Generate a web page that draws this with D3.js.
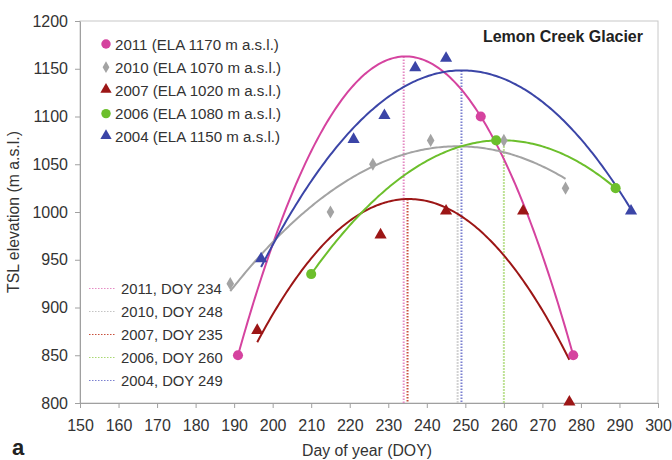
<!DOCTYPE html>
<html lang="en">
<head>
<meta charset="UTF-8">
<title>Lemon Creek Glacier TSL</title>
<style>
  body { margin: 0; background: #fff; }
  text { font-family: "Liberation Sans", Arial, sans-serif; fill: #333; }
</style>
</head>
<body>
<svg id="chart"></svg>
<script src="https://d3js.org/d3.v7.min.js"></script>
<script>
var years = ['2011', '2010', '2007', '2006', '2004'];
var ela = [1170, 1070, 1020, 1080, 1150];
var peakDoy = [234, 248, 235, 260, 249];
var doy2011 = [191, 254, 278],                  tsl2011 = [850, 1100, 850];
var doy2010 = [189, 215, 226, 241, 260, 276],   tsl2010 = [925, 1000, 1050, 1075, 1075, 1025];
var doy2007 = [196, 228, 245, 265, 277],        tsl2007 = [875, 975, 1000, 1000, 800];
var doy2006 = [210, 258, 289],                  tsl2006 = [935, 1075, 1025];
var doy2004 = [197, 221, 229, 237, 245, 293],   tsl2004 = [950, 1075, 1100, 1150, 1160, 1000];
var xTicks = [150, 160, 170, 180, 190, 200, 210, 220, 230, 240, 250, 260, 270, 280, 290, 300];
var yTicks = [800, 850, 900, 950, 1000, 1050, 1100, 1150, 1200];

var colors = ['#d5439f', '#a3a3a3', '#9c1616', '#6cbf2c', '#3b45a7'];
var dotColors = ['#e58cc4', '#c4c4c4', '#c8503c', '#a9d873', '#7b80d0'];
var shapes = ['circle', 'diamond', 'triangle', 'circle', 'triangle'];
var doys = [doy2011, doy2010, doy2007, doy2006, doy2004];
var tsls = [tsl2011, tsl2010, tsl2007, tsl2006, tsl2004];

var width = 672, height = 460;
var margin = {top: 21, right: 14, bottom: 57, left: 80};
var svg = d3.select('#chart').attr('width', width).attr('height', height);

var x = d3.scaleLinear().domain([150, 300]).range([margin.left, width - margin.right]);
var y = d3.scaleLinear().domain([800, 1200]).range([height - margin.bottom, margin.top]);

// least squares quadratic (like a spreadsheet poly trendline)
function quadFit(xs, ys) {
  var m = d3.mean(xs);
  var s = [0, 0, 0, 0, 0], t = [0, 0, 0];
  xs.forEach(function (xv, i) {
    var u = xv - m;
    for (var k = 0; k < 5; k++) s[k] += Math.pow(u, k);
    for (var k2 = 0; k2 < 3; k2++) t[k2] += ys[i] * Math.pow(u, k2);
  });
  var A = [[s[0], s[1], s[2], t[0]], [s[1], s[2], s[3], t[1]], [s[2], s[3], s[4], t[2]]];
  for (var c = 0; c < 3; c++) {
    for (var r = c + 1; r < 3; r++) {
      var f = A[r][c] / A[c][c];
      for (var k3 = c; k3 < 4; k3++) A[r][k3] -= f * A[c][k3];
    }
  }
  var b = [0, 0, 0];
  for (var r2 = 2; r2 >= 0; r2--) {
    var v = A[r2][3];
    for (var k4 = r2 + 1; k4 < 3; k4++) v -= A[r2][k4] * b[k4];
    b[r2] = v / A[r2][r2];
  }
  return function (xv) { var u = xv - m; return b[0] + b[1] * u + b[2] * u * u; };
}

// frame
svg.append('rect')
  .attr('x', x(150)).attr('y', y(1200))
  .attr('width', x(300) - x(150)).attr('height', y(800) - y(1200))
  .attr('fill', 'none').attr('stroke', '#c8c8c8').attr('stroke-width', 1);

var xAxis = svg.append('g')
  .attr('transform', 'translate(0,' + y(800) + ')')
  .call(d3.axisBottom(x).tickValues(xTicks).tickSize(5).tickSizeOuter(0).tickPadding(12));
var yAxis = svg.append('g')
  .attr('transform', 'translate(' + x(150) + ',0)')
  .call(d3.axisLeft(y).tickValues(yTicks).tickFormat(d3.format('d')).tickSize(5).tickSizeOuter(0).tickPadding(7));
[xAxis, yAxis].forEach(function (g) {
  g.select('.domain').attr('stroke', '#a0a0a0');
  g.selectAll('.tick line').attr('stroke', '#a0a0a0');
  g.selectAll('.tick text').attr('fill', '#333')
    .style('font-family', '"Liberation Sans", Arial, sans-serif').style('font-size', '16px');
});

var fits = doys.map(function (d, i) { return quadFit(d, tsls[i]); });

// vertical dotted lines at peak DOY
peakDoy.forEach(function (p, i) {
  svg.append('line')
    .attr('x1', x(p)).attr('x2', x(p))
    .attr('y1', y(fits[i](p))).attr('y2', y(800))
    .attr('stroke', dotColors[i]).attr('stroke-width', 2)
    .attr('stroke-dasharray', '1.5,1.5');
});

// trend curves
var line = d3.line().x(function (d) { return x(d[0]); }).y(function (d) { return y(d[1]); });
doys.forEach(function (d, i) {
  var lo = d3.min(d), hi = d3.max(d);
  var pts = d3.range(lo, hi + 0.01, 0.5).map(function (v) { return [v, fits[i](v)]; });
  svg.append('path').attr('d', line(pts))
    .attr('fill', 'none').attr('stroke', colors[i]).attr('stroke-width', 2);
});

function symbolFor(shape, big) {
  if (shape === 'circle') return d3.symbol().type(d3.symbolCircle).size(big ? 80 : 70);
  if (shape === 'diamond') return d3.symbol().type(d3.symbolDiamond).size(big ? 50 : 40);
  return d3.symbol().type(d3.symbolTriangle).size(big ? 64 : 55);
}

// markers
doys.forEach(function (d, i) {
  svg.append('g').selectAll('path').data(d).join('path')
    .attr('transform', function (v, j) {
      var dy = shapes[i] === 'triangle' ? -1 : 0;
      return 'translate(' + x(v) + ',' + (y(tsls[i][j]) + dy) + ')';
    })
    .attr('d', symbolFor(shapes[i], true)())
    .attr('fill', colors[i]);
});

// legend of markers
var leg1 = svg.append('g');
years.forEach(function (yr, i) {
  var ly = 44 + i * 23.2;
  leg1.append('path').attr('transform', 'translate(106,' + (ly - (shapes[i] === 'triangle' ? 1 : 0)) + ')')
    .attr('d', symbolFor(shapes[i], false)()).attr('fill', colors[i]);
  leg1.append('text').attr('x', 115).attr('y', ly + 5.5)
    .style('font-size', '15.1px').text(yr + ' (ELA ' + ela[i] + ' m a.s.l.)');
});

// legend of peak lines
var leg2 = svg.append('g');
years.forEach(function (yr, i) {
  var ly = 288.5 + i * 23;
  leg2.append('line').attr('x1', 89).attr('x2', 116).attr('y1', ly).attr('y2', ly)
    .attr('stroke', dotColors[i]).attr('stroke-width', 1.2).attr('stroke-dasharray', '1.5,1.5');
  leg2.append('text').attr('x', 121).attr('y', ly + 5.5)
    .style('font-size', '14.8px').text(yr + ', DOY ' + peakDoy[i]);
});

svg.append('text').attr('x', 643).attr('y', 42).attr('text-anchor', 'end')
  .style('font-size', '16px').style('font-weight', 'bold').style('fill', '#222')
  .text('Lemon Creek Glacier');

svg.append('text').attr('x', 367).attr('y', 456).attr('text-anchor', 'middle')
  .style('font-size', '15.8px').text('Day of year (DOY)');

svg.append('text').attr('transform', 'translate(19,' + y(1000) + ') rotate(-90)')
  .attr('text-anchor', 'middle').style('font-size', '15.8px')
  .text('TSL elevation (m a.s.l.)');

svg.append('text').attr('x', 12).attr('y', 455)
  .style('font-size', '22px').style('font-weight', 'bold').style('fill', '#222').text('a');
</script>
</body>
</html>
